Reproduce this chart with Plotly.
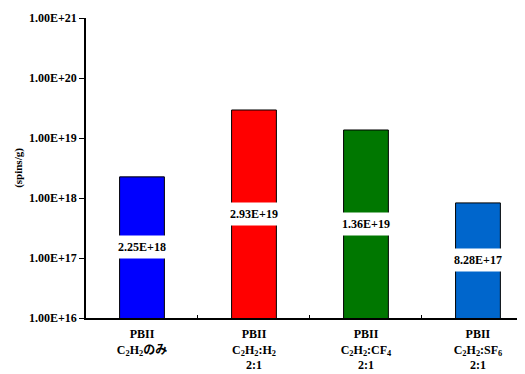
import plotly.graph_objects as go
import math

categories = [
    "PBII<br>C<sub>2</sub>H<sub>2</sub>のみ",
    "PBII<br>C<sub>2</sub>H<sub>2</sub>:H<sub>2</sub><br>2:1",
    "PBII<br>C<sub>2</sub>H<sub>2</sub>:CF<sub>4</sub><br>2:1",
    "PBII<br>C<sub>2</sub>H<sub>2</sub>:SF<sub>6</sub><br>2:1",
]
values = [2.25e18, 2.93e19, 1.36e19, 8.28e17]
value_labels = ["2.25E+18", "2.93E+19", "1.36E+19", "8.28E+17"]
colors = ["#0000FF", "#FF0000", "#007700", "#0066CC"]
y_tickvals = [1e16, 1e17, 1e18, 1e19, 1e20, 1e21]
y_ticktext = ["1.00E+16", "1.00E+17", "1.00E+18", "1.00E+19", "1.00E+20", "1.00E+21"]
y_title = "(spins/g)"
y_base = 1e16

FONT = "Liberation Serif, Noto Sans CJK JP, serif"

fig = go.Figure()
fig.add_trace(go.Bar(
    x=categories, y=values,
    marker=dict(color=colors, line=dict(color="black", width=1)),
    width=0.4,
))

for c, v, t in zip(categories, values, value_labels):
    fig.add_annotation(
        x=c, y=(math.log10(y_base) + math.log10(v)) / 2,
        text=t, showarrow=False,
        font=dict(family=FONT, size=12, color="black", weight="bold"),
        bgcolor="white", width=50, height=20,
    )

# page body has an 8px default margin, so the figure is sized to fit the window
fig.update_layout(
    width=517, height=366,
    margin=dict(l=78, r=0, t=10, b=56),
    paper_bgcolor="white", plot_bgcolor="white",
    showlegend=False,
    font=dict(family=FONT, color="black"),
)
fig.update_xaxes(
    type="category", range=[-0.5, 3.42], automargin=False,
    showline=True, linecolor="black", linewidth=1.5,
    ticks="inside", tickson="boundaries", ticklen=3, tickcolor="black",
    showgrid=False, ticklabelstandoff=4,
    tickfont=dict(family=FONT, size=12, color="black", weight="bold"),
)
fig.update_yaxes(
    type="log", range=[16, 21], automargin=False,
    tickvals=y_tickvals, ticktext=y_ticktext,
    showline=True, linecolor="black", linewidth=1.5,
    ticks="outside", ticklen=5, tickcolor="black",
    showgrid=False, zeroline=False,
    tickfont=dict(family=FONT, size=12, color="black", weight="bold"),
    title=dict(text=y_title, font=dict(family=FONT, size=11, color="black", weight="bold"), standoff=4),
)

fig.write_html("out.html")
